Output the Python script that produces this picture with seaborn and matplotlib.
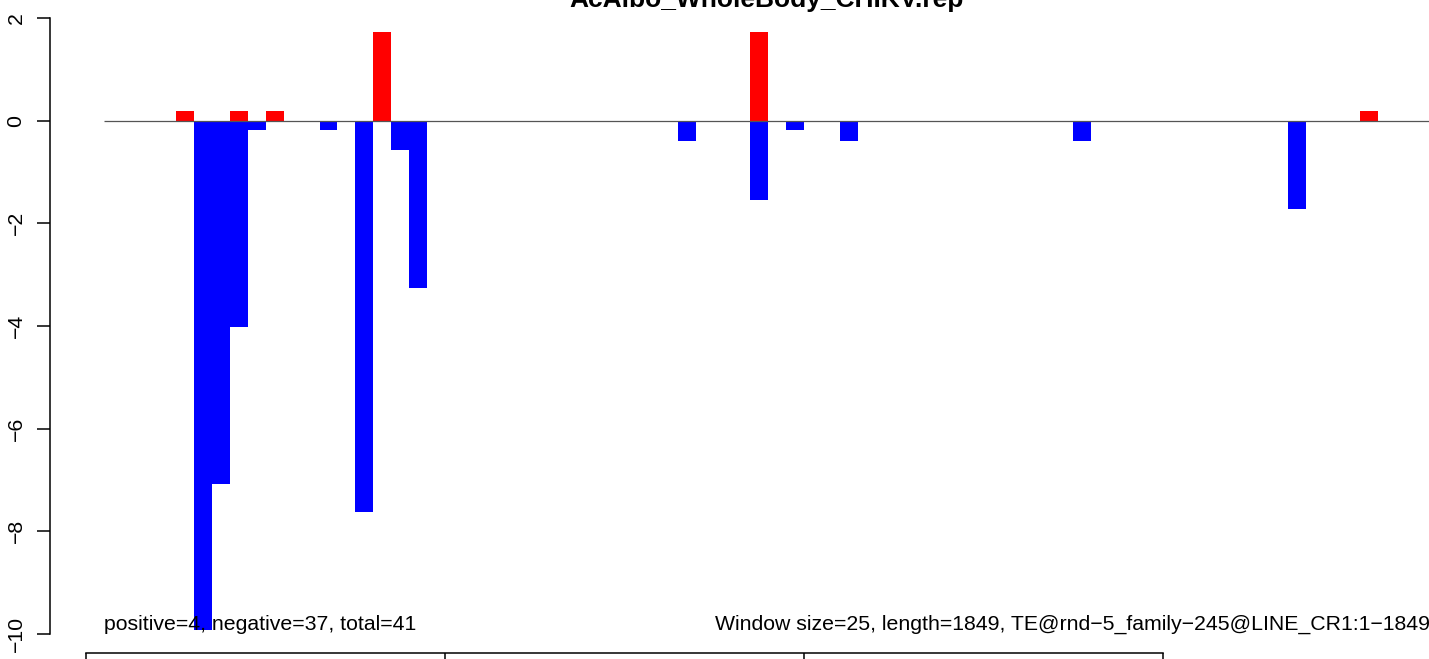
#Import packages
import numpy as np
import pandas as pd
import matplotlib
matplotlib.use("Agg")
import matplotlib.pyplot as plt
import seaborn as sns

#Data: window starts (bp) and scores
title = "AcAlbo_WholeBody_CHIKV.rep"
pos_starts = [125, 200, 250, 400, 925, 1775]
pos_values = [0.19, 0.19, 0.19, 1.72, 1.72, 0.19]
neg_starts = [150, 175, 200, 225, 325, 375, 425, 450, 825, 925, 975, 1050, 1375, 1675]
neg_values = [-9.93, -7.07, -4.01, -0.19, -0.19, -7.63, -0.58, -3.25,
              -0.39, -1.54, -0.19, -0.39, -0.39, -1.73]
y_ticks = [-10, -8, -6, -4, -2, 0, 2]
x_ticks = [0, 500, 1000, 1500]
window = 25
seq_len = 1849
left_note = "positive=4, negative=37, total=41"
right_note = "Window size=25, length=1849, TE@rnd\u22125_family\u2212245@LINE_CR1:1\u22121849"

pos_df = pd.DataFrame({"start": pos_starts, "score": pos_values})
neg_df = pd.DataFrame({"start": neg_starts, "score": neg_values})
pos_df["mid"] = pos_df["start"] + window / 2
neg_df["mid"] = neg_df["start"] + window / 2

sns.set_style("ticks")
plt.rcParams["font.family"] = ["Liberation Sans", "DejaVu Sans"]
plt.rcParams["text.color"] = "black"
plt.rcParams["ytick.color"] = "black"
plt.rcParams["xtick.color"] = "black"

W, H = 1429, 659
fig = plt.figure(figsize=(W / 100, H / 100), dpi=100)
ax = fig.add_axes([86.3 / W, (H - 634) / H, 1 - 86.3 / W, (634 - 18) / H])

#Bars through histplot with weights (one window per bin)
bin_range = (0, 1875)
sns.histplot(data=pos_df, x="mid", weights="score", binwidth=window, binrange=bin_range,
             color="red", alpha=1, linewidth=0, edgecolor="none", ax=ax)
sns.histplot(data=neg_df, x="mid", weights="score", binwidth=window, binrange=bin_range,
             color="blue", alpha=1, linewidth=0, edgecolor="none", ax=ax)

ax.hlines(0, window, seq_len + window, color="#555555", lw=0.9, zorder=3)

ax.set_xlim(0, 1871)
ax.set_ylim(-10, 2)
ax.set_xlabel("")
ax.set_ylabel("")

#R-style detached axes
for s in ["top", "right"]:
    ax.spines[s].set_visible(False)
ax.spines["left"].set_position(("outward", 26.1))
ax.spines["left"].set_bounds(-10, 2)
ax.spines["bottom"].set_position(("outward", 13.7))
ax.spines["bottom"].set_bounds(0, 1500)
for s in ["left", "bottom"]:
    ax.spines[s].set_linewidth(1.1)
    ax.spines[s].set_color("black")

ax.set_yticks(y_ticks)
ax.set_xticks(x_ticks)
ax.tick_params(axis="y", length=9.4, width=1.1, pad=8.3, labelsize=15.3, labelrotation=90,
               labelcolor="black")
ax.tick_params(axis="x", length=9.4, width=1.1, labelbottom=False)
for lab in ax.get_yticklabels():
    lab.set_va("center")

#Annotations
ax.text(window, -9.92, left_note, fontsize=15.3, va="baseline", ha="left", color="black")
ax.text(876, -9.92, right_note, fontsize=15.3, va="baseline", ha="left", clip_on=False,
        color="black")
fig.text(767 / W, (H - 7) / H, title, fontsize=19, fontweight="bold", ha="center",
         va="baseline", color="black")

plt.savefig("out.png", dpi=100)
